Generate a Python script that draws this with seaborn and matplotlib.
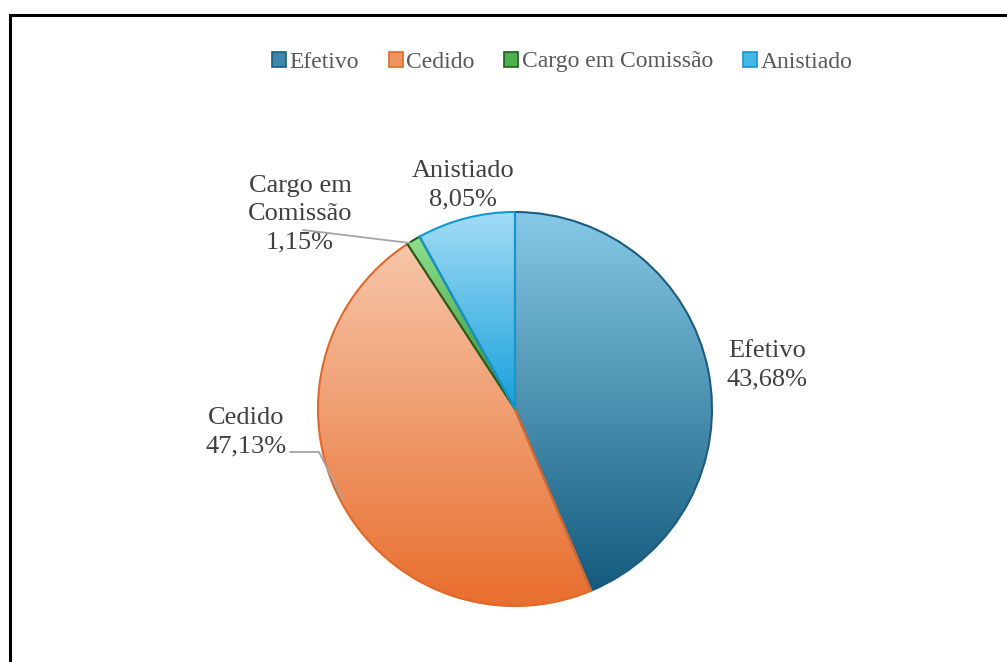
import numpy as np
import matplotlib
matplotlib.use("Agg")
import matplotlib.pyplot as plt
import seaborn as sns
from matplotlib.colors import LinearSegmentedColormap
from matplotlib.patches import Rectangle

categories = ["Efetivo", "Cedido", "Cargo em Comissão", "Anistiado"]
values = [43.68, 47.13, 1.15, 8.05]
value_labels = ["43,68%", "47,13%", "1,15%", "8,05%"]
slice_labels = ["Efetivo", "Cedido", "Cargo em\nComissão", "Anistiado"]

top_colors = ["#86C9E6", "#F7C6AA", "#8FE08F", "#A2DCF6"]
bottom_colors = ["#135A7C", "#E86D2C", "#2F8F2F", "#17A0DA"]
edge_colors = ["#1B5D82", "#E0692A", "#1E5E1E", "#1497D0"]
legend_colors = ["#3E86AC", "#EE9461", "#4CAF50", "#45B6E6"]

sns.set_theme(style="white")
plt.rcParams['font.family'] = ['Liberation Serif', 'DejaVu Serif']

W, H = 1007, 662
fig = plt.figure(figsize=(W / 100, H / 100), dpi=100)
ax = fig.add_axes([0, 0, 1, 1])
ax.axis("off")

cx, cy, R = 515, 409, 197  # pixel geometry of the pie
ax.set_xlim(-cx / R, (W - cx) / R)
ax.set_ylim(-(H - cy) / R, cy / R)
ax.set_aspect("equal")

wedges, _ = ax.pie(values, startangle=90, counterclock=False, radius=1,
                   wedgeprops=dict(linewidth=1.5, facecolor="none"))

for w, tc, bc, ec in zip(wedges, top_colors, bottom_colors, edge_colors):
    w.set_edgecolor(ec)
    w.set_zorder(3)
    pts = w.get_path().vertices
    xmin, xmax = pts[:, 0].min(), pts[:, 0].max()
    ymin, ymax = pts[:, 1].min(), pts[:, 1].max()
    cmap = LinearSegmentedColormap.from_list("g", [bc, tc])
    grad = np.linspace(0, 1, 256).reshape(-1, 1)
    im = ax.imshow(grad, cmap=cmap, origin="lower", aspect="auto",
                   extent=(xmin, xmax, ymin, ymax), zorder=2, interpolation="bicubic")
    im.set_clip_path(w)

ax.set_xlim(-cx / R, (W - cx) / R)
ax.set_ylim(-(H - cy) / R, cy / R)

def px(x, y):
    return ((x - cx) / R, (cy - y) / R)

txt_kw = dict(fontsize=19, color="#404040", ha="center", va="center", linespacing=1.38)
# label positions (pixel estimates)
label_pos = [(767, 365), (246, 432), (300, 214), (463, 185)]
for lab, val, (x, y) in zip(slice_labels, value_labels, label_pos):
    ax.text(*px(x, y), f"{lab}\n{val}", **txt_kw)

# leader lines
lx, ly = zip(*[px(290, 452), px(319, 452), px(343, 500)])
ax.plot(lx, ly, color="#A6A6A6", lw=1.3, zorder=4)
lx, ly = zip(*[px(303, 230), px(410, 243)])
ax.plot(lx, ly, color="#A6A6A6", lw=1.3, zorder=4)

# legend
handles = [Rectangle((0, 0), 1, 1, facecolor=c, edgecolor=e, linewidth=1.2)
           for c, e in zip(legend_colors, edge_colors)]
fig.legend(handles, categories, loc="center", bbox_to_anchor=(562 / W, 1 - 62 / H),
           ncol=4, frameon=False, fontsize=17, handlelength=0.6, handleheight=0.6,
           handletextpad=0.15, columnspacing=1.25, labelcolor="#595959")

# outer frame
fig.patches.append(Rectangle((9.5 / W, -0.1), 1.2, 1 - 14.5 / H + 0.1,
                             transform=fig.transFigure, fill=False,
                             edgecolor="black", linewidth=2.2))

fig.savefig("out.png", dpi=100)
